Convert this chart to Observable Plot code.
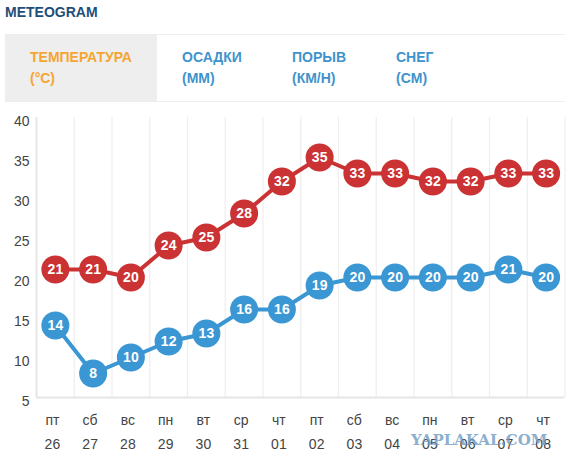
<!DOCTYPE html>
<html><head><meta charset="utf-8">
<script src="https://cdn.jsdelivr.net/npm/d3@7"></script>
<script src="https://cdn.jsdelivr.net/npm/@observablehq/plot@0.6"></script>
<style>
html,body{margin:0;padding:0;background:#fff;overflow:hidden;width:574px;height:468px}
body{font-family:"Liberation Sans",Arial,sans-serif;position:relative}
h1{position:absolute;left:5px;top:4px;margin:0;font-size:14px;line-height:16px;font-weight:bold;color:#1f4e79}
#tabs{position:absolute;left:5px;top:34px;width:560px;height:68px;border-top:1px solid #eee;border-bottom:1px solid #eee;box-sizing:border-box}
.tab{position:absolute;top:0;height:66px;font-size:14px;font-weight:bold;line-height:21px;color:#3f93cd;padding-top:12px;box-sizing:border-box}
.tab.on{background:#eee;color:#f5a533;left:0;width:152px;padding-left:25px}
#chart{position:absolute;left:0;top:105px}
#mark{position:absolute;left:411px;top:432px;font-family:"DejaVu Serif",serif;font-weight:bold;font-size:15px;line-height:16px;color:#6f9cc4;opacity:.8;white-space:nowrap}
</style></head><body>
<h1>METEOGRAM</h1>
<div id="tabs">
<div class="tab on">ТЕМПЕРАТУРА<br>(°C)</div>
<div class="tab" style="left:177px">ОСАДКИ<br>(MM)</div>
<div class="tab" style="left:287px">ПОРЫВ<br>(КМ/Н)</div>
<div class="tab" style="left:391px">СНЕГ<br>(CM)</div>
</div>
<div id="chart"></div>
<div id="mark">YAPLAKAL.COM</div>
<script>
const days = ["пт","сб","вс","пн","вт","ср","чт","пт","сб","вс","пн","вт","ср","чт"];
const dates = ["26","27","28","29","30","31","01","02","03","04","05","06","07","08"];
const maxTemp = [21,21,20,24,25,28,32,35,33,33,32,32,33,33];
const minTemp = [14,8,10,12,13,16,16,19,20,20,20,20,21,20];
const yTicks = [5,10,15,20,25,30,35,40];
const edges = d3.range(days.length + 1);
const centers = days.map((d,i)=>i+0.5);
const red = "#cb3234", blue = "#3a97d3", grid = "#eeeeee";
const series = (vals,color)=>[
  Plot.line(vals,{x:(d,i)=>i+0.5,y:d=>d,stroke:color,strokeWidth:4}),
  Plot.dot(vals,{x:(d,i)=>i+0.5,y:d=>d,r:14,fill:color}),
  Plot.text(vals,{x:(d,i)=>i+0.5,y:d=>d,text:d=>String(d),fill:"#fff",fontWeight:"bold",fontSize:14})
];
const chart = Plot.plot({
  width:574,height:363,
  marginLeft:36,marginRight:9.5,marginTop:12,marginBottom:71,
  style:{fontFamily:'"Liberation Sans",Arial,sans-serif',background:"transparent"},
  x:{domain:[0,days.length],axis:null},
  y:{domain:[5,40],axis:null},
  marks:[
    Plot.ruleX(edges.slice(1),{x:d=>d,stroke:grid,strokeWidth:1.2}),
    Plot.ruleX([0],{stroke:"#e6e6e6",strokeWidth:2}),
    Plot.ruleY([5],{stroke:"#e6e6e6",strokeWidth:2}),
    Plot.axisY({ticks:yTicks,tickSize:0,tickPadding:7,dy:4.5,fontSize:14,color:"#444",label:null,anchor:"left"}),
    Plot.axisX({ticks:centers,tickSize:0,tickPadding:10,dx:-3,fontSize:14,color:"#444",label:null,anchor:"bottom",lineHeight:1.72,
      tickFormat:d=>{const i=Math.floor(d);return days[i]+"\n"+dates[i];}}),
    ...series(maxTemp,red),
    ...series(minTemp,blue)
  ]
});
document.getElementById("chart").append(chart);
</script>
</body></html>
